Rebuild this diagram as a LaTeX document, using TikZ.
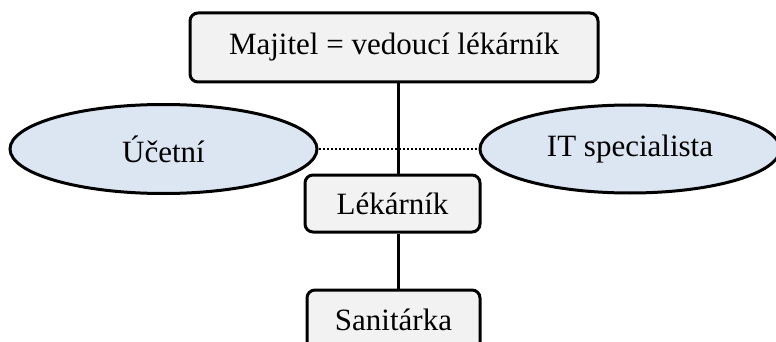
\documentclass[tikz,border=0pt]{standalone}
\usepackage{fontspec}
\setmainfont{Liberation Serif}
\usetikzlibrary{shapes.geometric}
\definecolor{boxfill}{HTML}{F2F2F2}
\definecolor{ellfill}{HTML}{DCE6F2}
\begin{document}
\begin{tikzpicture}[x=1pt,y=-1pt,
  rolebox/.style={draw=black, line width=3pt, rounded corners=8pt, fill=boxfill,
    inner sep=0pt, font=\fontsize{31}{37}\selectfont},
  roleell/.style={ellipse, draw=black, line width=3pt, fill=ellfill,
    inner sep=0pt, font=\fontsize{31}{37}\selectfont},
  link/.style={line width=3pt, draw=black}]
\useasboundingbox (0,0) rectangle (776,342);
\clip (0,0) rectangle (776,342);
\node[rolebox, minimum width=408pt, minimum height=69pt] (top) at (394,47.5) {Majitel = vedoucí lékárník};
\node[roleell, minimum width=307pt, minimum height=89pt] (uc) at (163.5,149) {Účetní};
\node[roleell, minimum width=300pt, minimum height=88pt] (it) at (630,149) {IT specialista};
\node[rolebox, minimum width=175pt, minimum height=57pt] (lek) at (392.5,203.5) {Lékárník};
\node[rolebox, minimum width=173pt, minimum height=60pt] (san) at (393.5,320) {Sanitárka};
\coordinate (vx) at (398,0);
\draw[link] (top.south -| vx) -- (lek.north -| vx);
\draw[link] (lek.south -| vx) -- (san.north -| vx);
\draw[line width=2pt, dotted] (uc.east) -- (it.west);
\end{tikzpicture}
\end{document}
